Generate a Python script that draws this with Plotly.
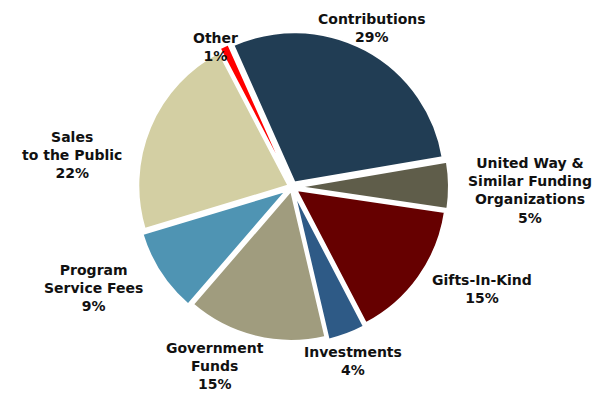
import plotly.graph_objects as go

labels = ["Contributions", "United Way &<br>Similar Funding<br>Organizations", "Gifts-In-Kind",
          "Investments", "Government<br>Funds", "Program<br>Service Fees",
          "Sales<br>to the Public", "Other"]
values = [29, 5, 15, 4, 15, 9, 22, 1]
colors = ["#213d54", "#5f5d4a", "#660000", "#2e5a86", "#a09c7e", "#4f94b3", "#d3cfa3", "#ff0000"]
pulls = [0.035, 0.045, 0.035, 0.045, 0.025, 0.045, 0.025, 0.04]

# label positions (pixel centers) for annotations
label_px = [(372, 28), (530, 190), (482, 289), (353, 361), (215, 366), (93, 288), (72, 155), (215, 47)]

W, H = 592, 393
CX, CY, R = 292, 187, 157

fig = go.Figure(go.Pie(
    labels=labels,
    values=values,
    sort=False,
    direction="clockwise",
    rotation=-24,
    pull=pulls,
    textinfo="none",
    hoverinfo="label+percent",
    marker=dict(colors=colors, line=dict(color="white", width=2)),
    domain=dict(x=[(CX - R) / W, (CX + R) / W], y=[(H - CY - R) / H, (H - CY + R) / H]),
    showlegend=False,
))

for lab, val, (px, py) in zip(labels, values, label_px):
    fig.add_annotation(
        x=px / W, y=1 - py / H, xref="paper", yref="paper",
        text=f"{lab}<br>{val}%", showarrow=False,
        xanchor="center", yanchor="middle", align="center",
        font=dict(family="DejaVu Sans", size=14, color="#111111", weight="bold"),
    )

fig.update_layout(
    width=W, height=H,
    margin=dict(l=0, r=0, t=0, b=0),
    paper_bgcolor="white", plot_bgcolor="white",
)

fig.write_html("out.html")
